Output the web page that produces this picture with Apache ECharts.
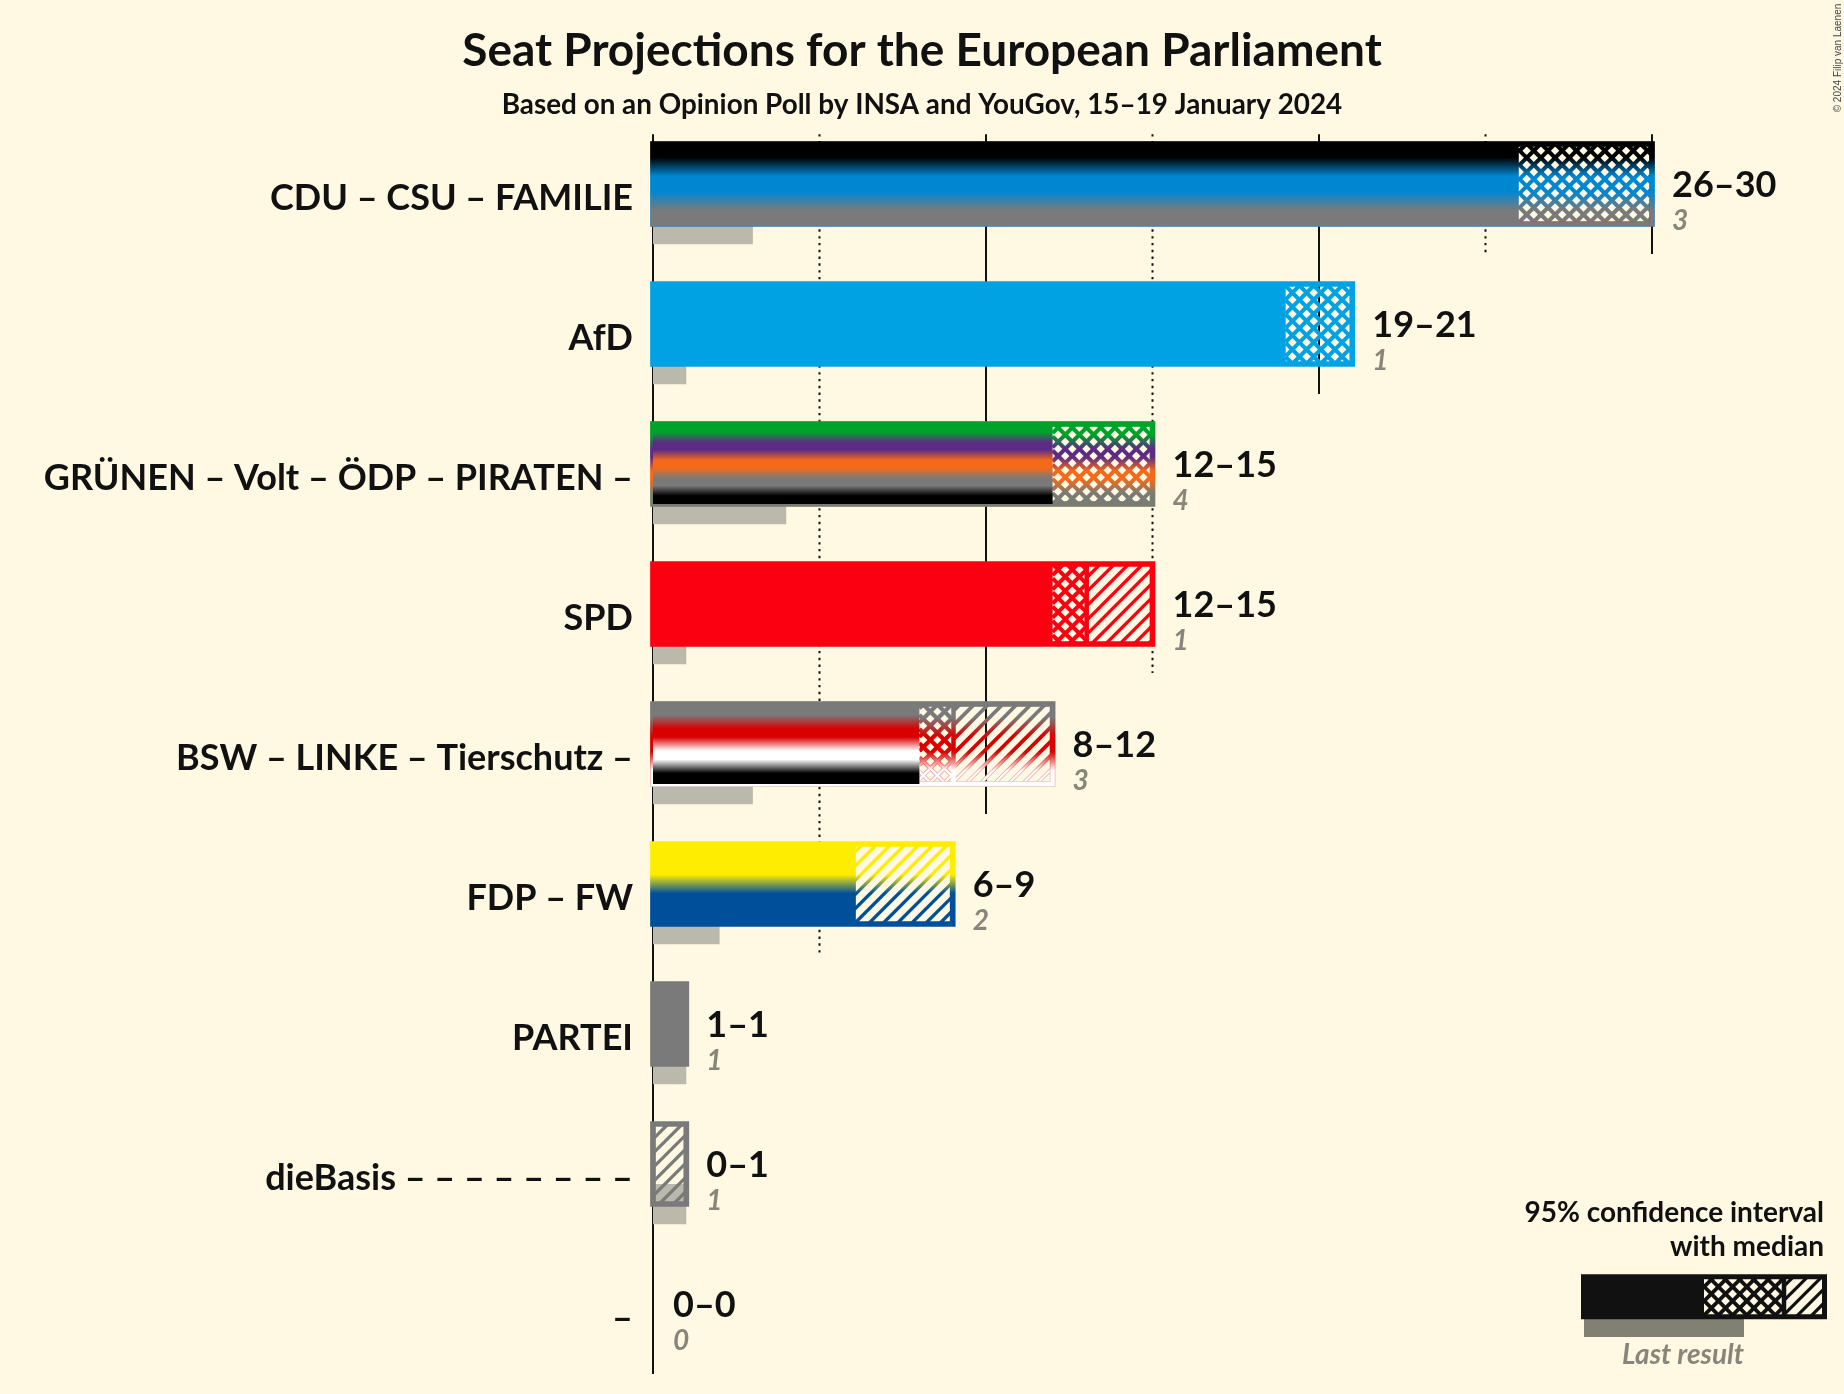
<!DOCTYPE html>
<html>
<head>
<meta charset="utf-8">
<style>html,body{margin:0;padding:0;background:#fff8e2;}#chart{width:1844px;height:1394px;}</style>
<script src="https://cdn.jsdelivr.net/npm/echarts@6/dist/echarts.min.js"></script>
</head>
<body>
<div id="chart"></div>
<script>
const categories = ['CDU – CSU – FAMILIE','AfD','GRÜNEN – Volt – ÖDP – PIRATEN –','SPD','BSW – LINKE – Tierschutz –','FDP – FW','PARTEI','dieBasis – – – – – – – –','–'];
const rangeLow = [26,19,12,12,8,6,1,0,0];
const rangeMedian = [30,21,15,13,9,6,1,0,0];
const rangeHigh = [30,21,15,15,12,9,1,1,0];
const lastResults = [3,1,4,1,3,2,1,1,0];
const fillColors = [
  ['#000000','#0087d2','#7a7a7a'],
  ['#00a2e3'],
  ['#00a32a','#5c2c84','#f56a19','#7a7a7a','#000000'],
  ['#fb0011'],
  ['#7a7a7a','#d90000','#ffffff','#000000'],
  ['#ffed00','#004f9b'],
  ['#7a7a7a'],
  ['#7a7a7a'],
  ['#7a7a7a']
];
const borderColors = [
  ['#000000','#0087d2','#7a7a7a'],
  ['#00a2e3'],
  ['#00a32a','#5c2c84','#f56a19','#7a7a76'],
  ['#fb0011'],
  ['#7a7a7a','#d90000','#ffffff'],
  ['#ffed00','#004f9b'],
  ['#7a7a7a'],
  ['#7a7a7a'],
  ['#7a7a7a']
];
const edgeColors = [
  ['#000000','#0087d2','#3f7ca8'],
  null,
  ['#00a32a','#5c2c84','#f56a19','#6f8a5c'],
  null,
  ['#7a7a7a','#d90000','#eeb0b0'],
  null,null,null,null
];
const gridTicks = [0,5,10,15,20,25,30];
const gridLastRow = [8,5,4,3,1,0,0];
const titleText = 'Seat Projections for the European Parliament';
const subtitleText = 'Based on an Opinion Poll by INSA and YouGov, 15–19 January 2024';
const copyrightText = '© 2024 Filip van Laenen';
const legendLines = ['95% confidence interval','with median'];
const legendLast = 'Last result';

const BG = '#fff8e2', INK = '#111111', LAST = '#bbb9ac', LASTTEXT = '#88867a';
const FONT = 'Lato';
const HATCH = 14.2;
const UNIT = 33.3;
const BLEND = {2:0.11,3:0.11,4:0.08,5:0.06};

function stops(colors){
  const n = colors.length;
  if(n === 1) return [{offset:0,color:colors[0]},{offset:1,color:colors[0]}];
  const d = BLEND[n], k = n===3 ? 1.2 : 1.04, out = [];
  const bound = i => 0.5 + (i/n - 0.5)*k;
  colors.forEach((c,i)=>{
    out.push({offset: i===0 ? 0 : bound(i)+d, color:c});
    out.push({offset: i===n-1 ? 1 : bound(i+1)-d, color:c});
  });
  return out;
}
function grad(colors, y0, y1){
  return new echarts.graphic.LinearGradient(0,y0,0,y1,stops(colors),true);
}
function hatch(x0,y0,x1,y1,dirs,stroke,lw,phase){
  const out = [];
  dirs.forEach(dir=>{
    const ph = dir>0 ? phase[0] : phase[1];
    const cMin = dir>0 ? x0+y0 : x0-y1, cMax = dir>0 ? x1+y1 : x1-y0;
    let c = Math.floor((cMin-ph)/HATCH)*HATCH+ph;
    for(; c<=cMax; c+=HATCH){
      let a,b,ya,yb;
      if(dir>0){ a=Math.max(x0,c-y1); b=Math.min(x1,c-y0); ya=c-a; yb=c-b; }
      else { a=Math.max(x0,c+y0); b=Math.min(x1,c+y1); ya=a-c; yb=b-c; }
      if(b>a) out.push({type:'line',silent:true,shape:{x1:a,y1:ya,x2:b,y2:yb},style:{stroke:stroke,lineWidth:lw,fill:null}});
    }
  });
  return out;
}
const PHASE_CROSS=[8.9,5.7], PHASE_DIAG=[3,0];

const rows = categories.map((c,i)=>[i,rangeLow[i],rangeMedian[i],rangeHigh[i],lastResults[i]]);

function renderGrid(p,api){
  const v=api.value(0), last=api.value(1);
  const x=api.coord([v,0])[0], band=api.size([0,1])[1];
  const top=api.coord([0,0])[1]-band*0.356;
  const bottom=api.coord([0,last])[1]+band*0.5;
  const dotted=v%10!==0;
  return {type:'line',silent:true,shape:{x1:x,y1:top,x2:x,y2:dotted?bottom-1:bottom},
    style:{stroke:INK,lineWidth:2,lineDash:dotted?[2.4,4.4]:null,fill:null}};
}
function renderLast(p,api){
  const i=api.value(0), v=api.value(4);
  if(!v) return {type:'group',children:[]};
  const c=api.coord([0,i]), e=api.coord([v,i]), band=api.size([0,1])[1];
  return {type:'rect',silent:true,shape:{x:c[0],y:c[1]+band*0.143,width:e[0]-c[0],height:band*0.288},style:{fill:LAST}};
}
function renderBar(p,api){
  const i=api.value(0), low=api.value(1), med=api.value(2), high=api.value(3);
  if(!high) return {type:'group',children:[]};
  const cy=api.coord([0,i])[1], band=api.size([0,1])[1], h=band*0.5714, sw=band*0.0407;
  const X=v=>api.coord([v,i])[0];
  const y0=cy-h/2, y1=cy+h/2, gTop=y0-sw/2, gBot=y1+sw/2;
  const fg=grad(fillColors[i],gTop,gBot), bd=grad(borderColors[i],gTop,gBot);
  const eg=edgeColors[i]?grad(edgeColors[i],gTop,gBot):null;
  const whiteLines=borderColors[i].indexOf('#ffffff')>=0;
  let ch=[];
  if(whiteLines&&med>low) ch=ch.concat(hatch(X(low),y0,X(med),y1,[1,-1],eg,4.2,PHASE_CROSS));
  if(whiteLines&&high>med) ch=ch.concat(hatch(X(med),y0,X(high),y1,[1],eg,3.8,PHASE_DIAG));
  if(med>low) ch=ch.concat(hatch(X(low),y0,X(med),y1,[1,-1],bd,whiteLines?2.4:4,PHASE_CROSS));
  if(high>med) ch=ch.concat(hatch(X(med),y0,X(high),y1,[1],bd,whiteLines?2:3.2,PHASE_DIAG));
  if(eg) ch.push({type:'rect',silent:true,shape:{x:X(0),y:y0,width:X(high)-X(0),height:h},style:{fill:null,stroke:eg,lineWidth:sw}});
  ch.push({type:'rect',silent:true,shape:{x:X(0),y:y0,width:X(high)-X(0),height:h},style:{fill:null,stroke:bd,lineWidth:eg?sw-1.4:sw}});
  if(low>0) ch.push({type:'rect',silent:true,shape:{x:X(0),y:y0,width:X(low)-X(0),height:h},style:{fill:fg}});
  if(high>med && low>0) ch.push({type:'line',silent:true,shape:{x1:X(med)+0.8,y1:y0,x2:X(med)+0.8,y2:y1},style:{stroke:bd,lineWidth:4.5,fill:null}});
  return {type:'group',children:ch};
}
function renderLabel(p,api){
  const i=api.value(0), low=api.value(1), high=api.value(3), last=api.value(4);
  const c=api.coord([high,i]);
  return {type:'group',silent:true,children:[
    {type:'text',style:{text:low+'–'+high,x:c[0]+20,y:c[1]+1,fill:INK,font:'bold 36px '+FONT,textAlign:'left',textVerticalAlign:'middle'}},
    {type:'text',style:{text:String(last),x:c[0]+20,y:c[1]+37,fill:LASTTEXT,font:'italic bold 28px '+FONT,textAlign:'left',textVerticalAlign:'middle'}}
  ]};
}

// Legend key
const L={x0:1583.5,x1:1824.5,y0:1276.8,y1:1316.8,low:1704,med:1784};
const legendEls=[].concat(
  [{type:'rect',silent:true,shape:{x:1584,y:1317,width:160,height:20},style:{fill:'#808073'}}],
  hatch(L.low,L.y0,L.med,L.y1,[1,-1],INK,3.8,PHASE_CROSS),
  hatch(L.med,L.y0,L.x1,L.y1,[1],INK,3.2,PHASE_DIAG),
  [{type:'rect',silent:true,shape:{x:L.x0,y:L.y0,width:L.x1-L.x0,height:L.y1-L.y0},style:{fill:null,stroke:INK,lineWidth:5}},
   {type:'rect',silent:true,shape:{x:L.x0,y:L.y0,width:L.low-L.x0,height:L.y1-L.y0},style:{fill:INK}},
   {type:'line',silent:true,shape:{x1:L.med,y1:L.y0,x2:L.med,y2:L.y1},style:{stroke:INK,lineWidth:4.5}},
   {type:'text',silent:true,style:{text:legendLines[0],x:1824,y:1213,fill:INK,font:'bold 28px '+FONT,textAlign:'right',textVerticalAlign:'middle'}},
   {type:'text',silent:true,style:{text:legendLines[1],x:1824,y:1247,fill:INK,font:'bold 28px '+FONT,textAlign:'right',textVerticalAlign:'middle'}},
   {type:'text',silent:true,style:{text:legendLast,x:1744,y:1355,fill:LASTTEXT,font:'italic bold 28px '+FONT,textAlign:'right',textVerticalAlign:'middle'}},
   {type:'text',silent:true,rotation:Math.PI/2,x:1838,y:58,style:{text:copyrightText,x:0,y:0,fill:'#444444',font:'10px "Liberation Sans"',textAlign:'center',textVerticalAlign:'middle'}}
  ]
);

const chart=echarts.init(document.getElementById('chart'),null,{renderer:'canvas'});
chart.setOption({
  animation:false,
  backgroundColor:BG,
  textStyle:{fontFamily:FONT},
  title:[
    {text:titleText,left:'center',top:23,textStyle:{fontFamily:FONT,fontWeight:'bold',fontSize:46,color:INK}},
    {text:subtitleText,left:'center',top:86.5,textStyle:{fontFamily:FONT,fontWeight:'bold',fontSize:27.85,color:INK}}
  ],
  grid:{left:653,top:114,width:35*UNIT,height:1260,containLabel:false},
  xAxis:{type:'value',min:0,max:35,show:false},
  yAxis:{type:'category',inverse:true,data:categories,
    axisLine:{show:false},axisTick:{show:false},splitLine:{show:false},
    axisLabel:{interval:0,margin:20,color:INK,fontFamily:FONT,fontWeight:'bold',fontSize:36,align:'right',verticalAlign:'top',lineHeight:29}},
  graphic:legendEls,
  series:[
    {type:'custom',name:'grid',z:1,clip:false,coordinateSystem:'cartesian2d',renderItem:renderGrid,encode:{x:0},data:gridTicks.map((t,i)=>[t,gridLastRow[i]])},
    {type:'custom',name:'last',z:2,clip:false,coordinateSystem:'cartesian2d',renderItem:renderLast,data:rows},
    {type:'custom',name:'bars',z:3,clip:false,coordinateSystem:'cartesian2d',renderItem:renderBar,data:rows},
    {type:'custom',name:'labels',z:4,clip:false,coordinateSystem:'cartesian2d',renderItem:renderLabel,data:rows}
  ]
});
</script>
</body>
</html>
